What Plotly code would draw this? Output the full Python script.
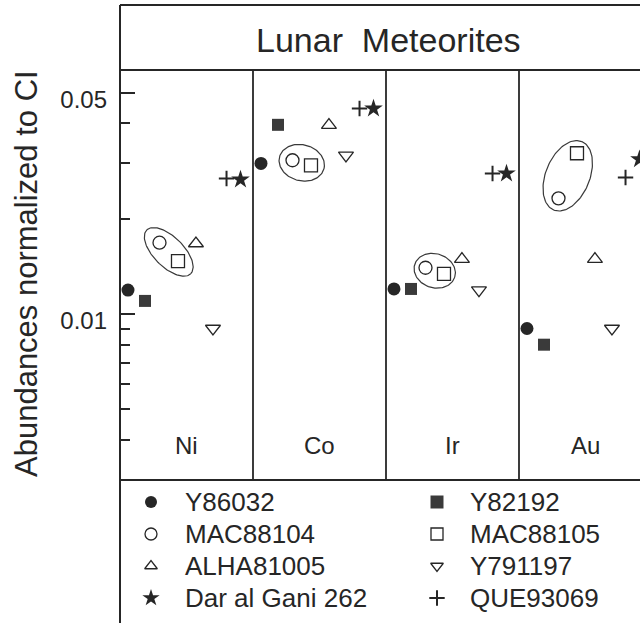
import numpy as np
import plotly.graph_objects as go

# ---------------- data ----------------
elements = ["Ni", "Co", "Ir", "Au"]
meteorites = ["Y86032", "Y82192", "MAC88104", "MAC88105",
              "ALHA81005", "Y791197", "QUE93069", "Dar al Gani 262"]
# abundances normalized to CI, order: Ni, Co, Ir, Au
y86032 = [0.0119, 0.0299, 0.0120, 0.0090]
y82192 = [0.0110, 0.0396, 0.0120, 0.0080]
mac88104 = [0.0168, 0.0306, 0.0140, 0.0232]
mac88105 = [0.0147, 0.0295, 0.0134, 0.0322]
alha81005 = [0.0167, 0.0395, 0.0149, 0.0149]
y791197 = [0.0090, 0.0317, 0.0119, 0.0090]
que93069 = [0.0268, 0.0446, 0.0278, 0.0270]
dag262 = [0.0266, 0.0446, 0.0278, 0.0308]
tick_vals = [0.01, 0.05]
tick_text = ["0.01", "0.05"]
minor_vals = [0.004, 0.005, 0.006, 0.007, 0.008, 0.009, 0.02, 0.03, 0.04]

series = [y86032, y82192, mac88104, mac88105, alha81005, y791197, que93069, dag262]

# ---------------- layout constants ----------------
W, H = 640, 623
L = 120
TOP, BOT = 70, 480
PANEL_PX = 133.0
INK = "#262626"
FONT = "Liberation Sans, Arial, sans-serif"
Y_LOG = [-2.5244, -1.2291]
PX_DEC = (BOT - TOP) / (Y_LOG[1] - Y_LOG[0])

# horizontal position of each meteorite inside a panel (fraction of panel)
offsets = [0.060, 0.188, 0.297, 0.436, 0.571, 0.699, 0.801, 0.906]
styles = [
    dict(symbol="circle", size=13, color=INK, line=dict(width=0)),
    dict(symbol="square", size=12, color="#3a3a3a", line=dict(width=0)),
    dict(symbol="circle-open", size=13, color=INK, line=dict(width=1.3)),
    dict(symbol="square-open", size=13, color=INK, line=dict(width=1.3)),
    dict(symbol="triangle-up-open", size=13, color=INK, line=dict(width=1.3)),
    dict(symbol="triangle-down-open", size=13, color=INK, line=dict(width=1.3)),
    dict(symbol="cross-thin-open", size=11, color=INK, line=dict(width=2, color=INK)),
    dict(symbol="star", size=14, color=INK, line=dict(width=0)),
]
legend_size = [12, 13, 12, 12, 11, 11, 11, 13]

def py2paper(py):
    return (H - py) / H

def px2paper(px):
    return (px - L) / (W - L)

fig = go.Figure()

# ---------------- data markers ----------------
for k, (name, vals) in enumerate(zip(meteorites, series)):
    fig.add_trace(go.Scatter(
        x=[i + offsets[k] for i in range(len(elements))],
        y=vals, mode="markers", name=name, marker=styles[k],
        cliponaxis=False, showlegend=False, hoverinfo="name+y",
        xaxis="x", yaxis="y"))

# ---------------- ellipses around MAC88104 / MAC88105 ----------------
ell_a = [31, 23, 21, 37]
ell_b = [15, 18, 17, 22]
t = np.linspace(0, 2 * np.pi, 121)
for i in range(len(elements)):
    X1 = (i + offsets[2]) * PANEL_PX
    X2 = (i + offsets[3]) * PANEL_PX
    Y1 = -np.log10(mac88104[i]) * PX_DEC
    Y2 = -np.log10(mac88105[i]) * PX_DEC
    cx, cy = (X1 + X2) / 2, (Y1 + Y2) / 2
    ang = np.arctan2(Y2 - Y1, X2 - X1)
    ex, ey = ell_a[i] * np.cos(t), ell_b[i] * np.sin(t)
    X = cx + ex * np.cos(ang) - ey * np.sin(ang)
    Y = cy + ex * np.sin(ang) + ey * np.cos(ang)
    fig.add_trace(go.Scatter(
        x=X / PANEL_PX, y=10 ** (-Y / PX_DEC), mode="lines",
        line=dict(color="#3a3a3a", width=1.2), showlegend=False,
        hoverinfo="skip", xaxis="x", yaxis="y"))

# ---------------- hand-drawn legend box ----------------
legend_order = [0, 1, 2, 3, 4, 5, 7, 6]
col_mark = [151, 437]
col_text = [183, 468]
row_y = [502, 534, 566, 598]
annotations = []
for j, k in enumerate(legend_order):
    r, c = divmod(j, 2)
    st = dict(styles[k])
    st["size"] = legend_size[k]
    fig.add_trace(go.Scatter(
        x=[col_mark[c]], y=[row_y[r]], mode="markers", marker=st,
        showlegend=False, hoverinfo="skip", xaxis="x2", yaxis="y2"))
    annotations.append(dict(
        x=col_text[c], y=row_y[r], xref="x2", yref="y2", text=meteorites[k],
        showarrow=False, xanchor="left", yanchor="middle",
        font=dict(family=FONT, size=26, color=INK)))

# element labels
for i, el in enumerate(elements):
    annotations.append(dict(
        x=i + 0.5, y=py2paper(445), xref="x", yref="paper", text=el,
        showarrow=False, xanchor="center", yanchor="middle",
        font=dict(family=FONT, size=24, color=INK)))

# title
annotations.append(dict(
    x=px2paper(388), y=py2paper(40), xref="paper", yref="paper",
    text="Lunar\u00a0\u00a0Meteorites", showarrow=False,
    xanchor="center", yanchor="middle",
    font=dict(family=FONT, size=34, color=INK)))

# y-axis title
annotations.append(dict(
    x=px2paper(27), y=py2paper(274), xref="paper", yref="paper",
    text="Abundances normalized to CI", textangle=-90, showarrow=False,
    xanchor="center", yanchor="middle",
    font=dict(family=FONT, size=31, color=INK)))

# ---------------- frame lines ----------------
shapes = []
line = dict(color=INK, width=2)
shapes.append(dict(type="line", xref="paper", yref="paper", x0=0, x1=0,
                   y0=-0.01, y1=py2paper(5), line=line))
for py in (5, TOP, BOT):
    shapes.append(dict(type="line", xref="paper", yref="paper", x0=0, x1=1.01,
                       y0=py2paper(py), y1=py2paper(py), line=line))
for i in range(1, len(elements)):
    shapes.append(dict(type="line", xref="x", yref="paper", x0=i, x1=i,
                       y0=py2paper(BOT), y1=py2paper(TOP),
                       line=dict(color=INK, width=1.8)))

fig.update_layout(
    width=W, height=H,
    margin=dict(l=L, r=0, t=0, b=0, pad=0),
    paper_bgcolor="white", plot_bgcolor="rgba(0,0,0,0)",
    showlegend=False,
    xaxis=dict(range=[0, (W - L) / PANEL_PX], domain=[0, 1],
               showgrid=False, zeroline=False, showticklabels=False,
               ticks="", showline=False, fixedrange=True),
    yaxis=dict(type="log", range=Y_LOG,
               domain=[py2paper(BOT), py2paper(TOP)],
               tickvals=tick_vals, ticktext=tick_text,
               ticks="inside", ticklen=15, tickwidth=2, tickcolor=INK,
               minor=dict(tickvals=minor_vals, ticks="inside", ticklen=10,
                          tickwidth=1.8, tickcolor=INK, showgrid=False),
               showgrid=False, zeroline=False, showline=False,
               tickfont=dict(family=FONT, size=24, color=INK),
               ticklabelstandoff=12, ticklabelshift=7, fixedrange=True),
    xaxis2=dict(range=[L, W], domain=[0, 1], anchor="y2", visible=False,
                fixedrange=True),
    yaxis2=dict(range=[H, BOT], domain=[0, py2paper(BOT)], anchor="x2",
                visible=False, fixedrange=True),
    shapes=shapes,
    annotations=annotations,
)

fig.write_html(
    "out.html",
    config={"displayModeBar": False},
    post_script="document.body.style.margin='0';document.body.style.overflow='hidden';",
)
